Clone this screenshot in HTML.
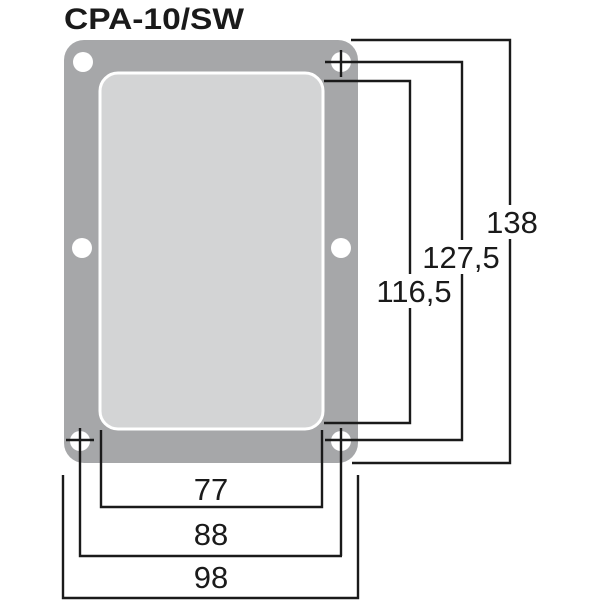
<!DOCTYPE html><html><head><style>body{margin:0;background:#fff}svg{display:block}</style></head><body>
<svg width="600" height="600" viewBox="0 0 600 600" xmlns="http://www.w3.org/2000/svg">
<text x="64" y="29" font-family="Liberation Sans, sans-serif" font-weight="bold" font-size="30" fill="#1a1a1a" textLength="180" lengthAdjust="spacingAndGlyphs">CPA-10/SW</text>
<rect x="64" y="40" width="294" height="423" rx="20" fill="#a6a7a9"/>
<rect x="100" y="73" width="223" height="356" rx="18" fill="#d3d4d5" stroke="#fff" stroke-width="3"/>
<g fill="#fff">
<circle cx="83" cy="62" r="10"/><circle cx="341" cy="62" r="10"/>
<circle cx="82" cy="248" r="10"/><circle cx="341" cy="248" r="10"/>
<circle cx="80" cy="441" r="10"/><circle cx="341" cy="441" r="10"/>
</g>
<g stroke="#1a1a1a" stroke-width="2.4" fill="none">
<path d="M351 40H510V463H352"/>
<path d="M325 62H462V440H325"/>
<path d="M324 81H410V423H324"/>
<path d="M341 50V77"/>
<path d="M341 428V556M80 428V556H342M66 440H94"/>
<path d="M101 430V507H322V430"/>
<path d="M63 475V598H358V475"/>
</g>
<g fill="#fff">
<rect x="484" y="205" width="58" height="34"/>
<rect x="422" y="240" width="80" height="34"/>
<rect x="374" y="274" width="82" height="34"/>
</g>
<g font-family="Liberation Sans, sans-serif" font-size="31" fill="#1a1a1a" text-anchor="middle">
<text x="512" y="233">138</text>
<text x="461" y="268">127,5</text>
<text x="414" y="302">116,5</text>
<text x="211" y="500">77</text>
<text x="211" y="545">88</text>
<text x="211" y="588">98</text>
</g>
</svg>
</body></html>
